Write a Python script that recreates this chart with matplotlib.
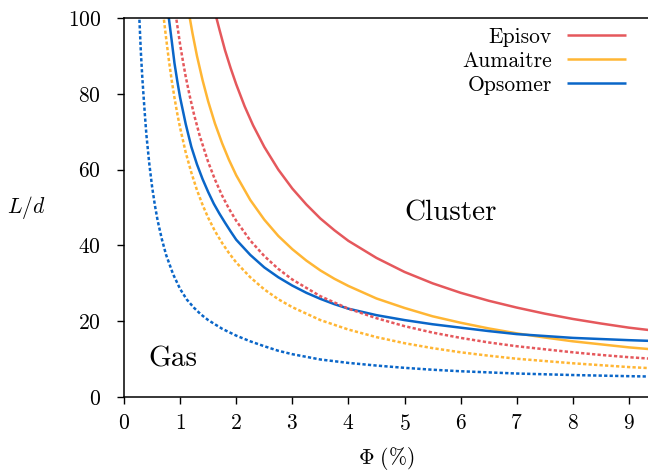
import numpy             as np
import matplotlib
matplotlib.use("Agg")
import matplotlib.pyplot as plt

# Computer Modern look
plt.rcParams['font.family'] = 'serif'
plt.rcParams['font.serif'] = ['cmr10', 'DejaVu Serif']
plt.rcParams['mathtext.fontset'] = 'cm'
plt.rcParams['axes.formatter.use_mathtext'] = True

# (solid and dotted curve of each criterion)
episov_x = [1.63, 1.7, 1.8, 1.9, 2.0, 2.15, 2.3, 2.5, 2.75, 3.0, 3.25, 3.5, 3.75, 4.0, 4.5,
            5.0, 5.5, 6.0, 6.5, 7.0, 7.5, 8.0, 8.5, 9.0, 9.4]
episov_y = [101, 97.0, 91.5, 86.8, 82.5, 76.7, 71.7, 66.0, 60.0, 55.0, 50.8, 47.1, 44.0, 41.2, 36.7,
            33.0, 30.0, 27.5, 25.4, 23.6, 22.0, 20.6, 19.4, 18.3, 17.6]
episov_dx = [0.92, 0.96, 1.0, 1.05, 1.1, 1.17, 1.25, 1.35, 1.5, 1.62, 1.75, 1.87, 2.0, 2.25, 2.5,
             2.75, 3.0, 3.5, 4.0, 4.5, 5.0, 5.5, 6.0, 6.5, 7.0, 7.5, 8.0, 8.5, 9.0, 9.4]
episov_dy = [101, 97.0, 93.0, 88.6, 84.5, 79.5, 74.4, 68.9, 62.0, 57.4, 53.1, 49.7, 46.5, 41.3, 37.2,
             33.8, 31.0, 26.6, 23.3, 20.8, 18.7, 17.0, 15.6, 14.4, 13.4, 12.6, 11.8, 11.1, 10.5, 10.1]

aumaitre_x = [1.16, 1.22, 1.3, 1.4, 1.5, 1.62, 1.75, 1.87, 2.0, 2.25, 2.5, 2.75, 3.0, 3.25, 3.5,
              3.75, 4.0, 4.5, 5.0, 5.5, 6.0, 6.5, 7.0, 7.5, 8.0, 8.5, 9.0, 9.4]
aumaitre_y = [101, 96.0, 90.0, 83.6, 78.0, 72.2, 66.9, 62.6, 58.5, 52.0, 46.8, 42.5, 39.0, 36.0, 33.4,
              31.2, 29.3, 26.0, 23.5, 21.3, 19.6, 18.1, 16.8, 15.7, 14.7, 13.9, 13.1, 12.6]
aumaitre_dx = [0.70, 0.75, 0.8, 0.85, 0.9, 0.95, 1.0, 1.1, 1.2, 1.3, 1.4, 1.5, 1.62, 1.75, 1.87,
               2.0, 2.25, 2.5, 2.75, 3.0, 3.5, 4.0, 4.5, 5.0, 5.5, 6.0, 6.5, 7.0, 7.5, 8.0,
               8.5, 9.0, 9.4]
aumaitre_dy = [101, 94.7, 88.8, 83.5, 78.9, 74.7, 71.0, 64.5, 59.2, 54.6, 50.7, 47.3, 43.8, 40.6, 38.0,
               35.5, 31.6, 28.4, 25.8, 23.7, 20.3, 17.8, 15.8, 14.2, 12.9, 11.8, 10.9, 10.1, 9.5, 8.9,
               8.4, 7.9, 7.6]

opsomer_x = [0.79, 0.85, 0.9, 0.95, 1.0, 1.1, 1.2, 1.3, 1.4, 1.5, 1.6, 1.7, 1.8, 1.9, 2.0,
             2.25, 2.5, 2.75, 3.0, 3.25, 3.5, 3.75, 4.0, 4.5, 5.0, 5.5, 6.0, 6.5, 7.0, 7.5,
             8.0, 8.5, 9.0, 9.4]
opsomer_y = [101, 94.0, 88.0, 83.3, 79.0, 72.0, 66.0, 61.4, 57.5, 54.1, 51.0, 48.4, 46.0, 43.7, 41.5,
             37.5, 34.2, 31.6, 29.4, 27.5, 25.9, 24.5, 23.3, 21.6, 20.3, 19.2, 18.3, 17.4, 16.6, 16.1,
             15.6, 15.3, 15.0, 14.8]
opsomer_dx = [0.27, 0.285, 0.3, 0.325, 0.35, 0.375, 0.4, 0.45, 0.5, 0.55, 0.6, 0.675, 0.75, 0.875, 1.0,
              1.12, 1.25, 1.37, 1.5, 1.75, 2.0, 2.25, 2.5, 2.75, 3.0, 3.5, 4.0, 4.5, 5.0, 5.5,
              6.0, 6.5, 7.0, 7.5, 8.0, 8.5, 9.0, 9.4]
opsomer_dy = [101, 96.0, 91.0, 84.5, 79.0, 73.8, 69.0, 61.6, 55.5, 50.6, 46.5, 41.6, 37.5, 32.4, 28.5,
              25.7, 23.5, 21.8, 20.3, 18.0, 16.2, 14.7, 13.4, 12.2, 11.3, 9.9, 9.0, 8.3, 7.7, 7.2,
              6.8, 6.5, 6.2, 6.0, 5.8, 5.65, 5.5, 5.4]

names = ['Episov', 'Aumaitre', 'Opsomer']
colors = ['#e5585c', '#ffb634', '#0a66c8']

fig = plt.figure(figsize=(6.48, 4.74), dpi=100)
ax = fig.add_axes([0.1914, 0.1624, 0.8086, 0.7996])

solid = [(episov_x, episov_y), (aumaitre_x, aumaitre_y), (opsomer_x, opsomer_y)]
dotted = [(episov_dx, episov_dy), (aumaitre_dx, aumaitre_dy), (opsomer_dx, opsomer_dy)]

for (x, y), name, c in zip(solid, names, colors):
    ax.plot(x, y, color=c, lw=1.8, label=name, solid_capstyle='butt')
for (x, y), c in zip(dotted, colors):
    ax.plot(x, y, color=c, lw=1.8, linestyle=(0, (1.3, 0.9)))

ax.text(5.83, 48.5, 'Cluster', fontsize=21, ha='center', va='center')
ax.text(0.87, 10, 'Gas', fontsize=21, ha='center', va='center')

ax.set_xlim(0, 9.34)
ax.set_ylim(0, 100)
ax.set_xticks(range(0, 10))
ax.set_yticks(range(0, 101, 20))
ax.tick_params(labelsize=15.5, length=5, width=1.0, pad=7, direction='out')
ax.tick_params(axis='y', pad=11.5)

for s in ['left', 'bottom', 'top']:
    ax.spines[s].set_linewidth(1.1)
ax.spines['right'].set_visible(False)

ax.set_xlabel(r'$\Phi\ (\%)$', fontsize=15.5, labelpad=8)
ax.set_ylabel(r'$L/d$', fontsize=15.5, rotation=0, labelpad=30, va='center')

leg = ax.legend(loc='upper right', bbox_to_anchor=(0.975, 0.998), frameon=False,
                markerfirst=False, fontsize=15.5, handlelength=2.75,
                handletextpad=0.7, labelspacing=0.2, borderaxespad=0.0)

fig.savefig('out.png', dpi=100)
